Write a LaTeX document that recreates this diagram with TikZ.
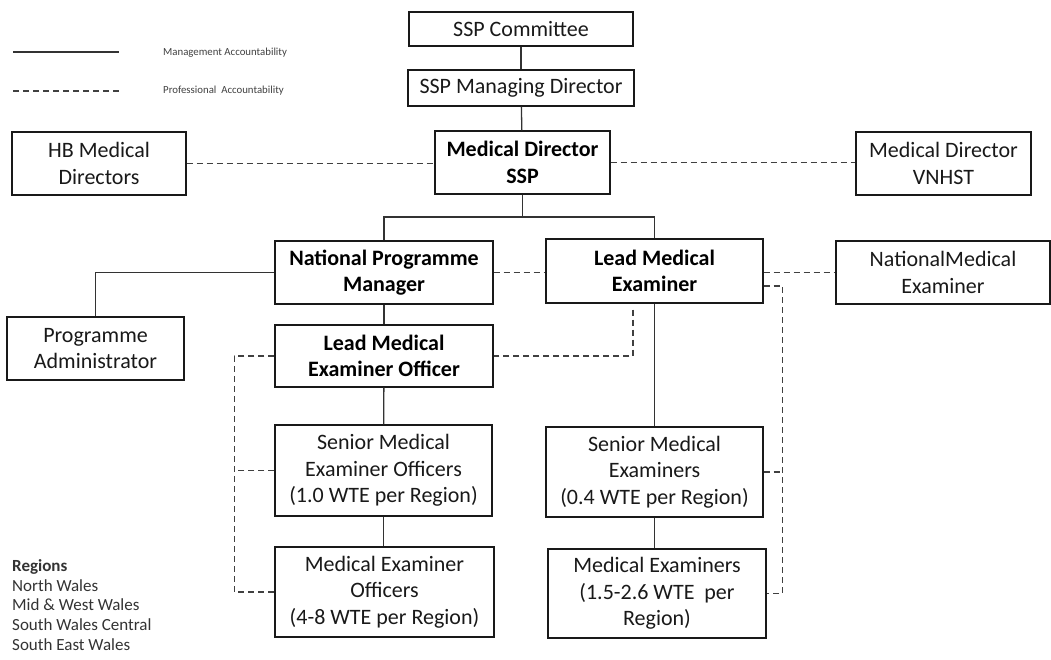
\documentclass[tikz,border=0pt]{standalone}
\usepackage{fontspec}
\setmainfont{Carlito}
\usetikzlibrary{positioning}
\begin{document}
\begin{tikzpicture}[x=1pt,y=-1pt,
    box/.style={draw=black!90,line width=1.4pt,align=center,inner sep=0pt,text=black!90,font=\fontsize{22}{26.5}\selectfont},
    bbox/.style={box,text=black,font=\fontsize{22}{26.5}\selectfont\bfseries},
    mgmt/.style={draw=black!80,line width=1.3pt},
    prof/.style={draw=black!75,line width=1.4pt,dash pattern=on 6pt off 4pt},
    legtext/.style={anchor=west,inner sep=0pt,text=black!75,font=\fontsize{10.8}{12}\selectfont}]
    \useasboundingbox (0,0) rectangle (1051,659);
    % top of the chart
    \node[box,minimum width=224pt,minimum height=34pt] (comm) at (521,29) {SSP Committee};
    \node[box,minimum width=226pt,minimum height=36pt] (mdir) at (521,88) {SSP Managing Director};
    \node[bbox,minimum width=175pt,minimum height=63pt] (meddir) at (522.5,162.5) {Medical Director\\SSP};
    \node[box,minimum width=174pt,minimum height=63pt] (hb) at (99,163.5) {HB Medical\\Directors};
    \node[box,minimum width=175pt,minimum height=63pt] (vnhst) at (943.5,163.5) {Medical Director\\VNHST};
    % second row
    \node[bbox,minimum width=218pt,minimum height=63pt] (npm) at (384,272.5) {National Programme\\Manager};
    \node[bbox,minimum width=217pt,minimum height=64pt] (lme) at (654.5,271) {Lead Medical\\Examiner};
    \node[box,minimum width=214pt,minimum height=63pt] (nme) at (943,272.5) {NationalMedical\\Examiner};
    \node[box,minimum width=177pt,minimum height=63pt] (pa) at (95.5,348.5) {Programme\\Administrator};
    \node[bbox,minimum width=218pt,minimum height=62pt] (lmeo) at (384,356) {Lead Medical\\Examiner Officer};
    % regional staff
    \node[box,minimum width=217pt,minimum height=91pt] (smeo) at (383.5,470.5) {Senior Medical\\Examiner Officers\\(1.0 WTE per Region)};
    \node[box,minimum width=219pt,minimum height=90pt] (meo) at (384.5,592) {Medical Examiner\\Officers\\(4-8 WTE per Region)};
    \node[box,minimum width=217pt,minimum height=90pt] (sme) at (654.5,472) {Senior Medical\\Examiners\\(0.4 WTE per Region)};
    \node[box,minimum width=218pt,minimum height=89pt] (me) at (657,593.5) {Medical Examiners\\(1.5-2.6 WTE~ per\\Region)};
    % management accountability
    \coordinate (bus) at (0,217);
    \draw[mgmt] (comm) -- (mdir);
    \draw[mgmt] (mdir) -- (meddir);
    \draw[mgmt] (meddir.south) -- (meddir.south |- bus);
    \draw[mgmt] (npm.north) -- (npm.north |- bus) -| (lme.north);
    \draw[mgmt] (npm.west) -| (pa.north);
    \draw[mgmt] (npm) -- (lmeo);
    \draw[mgmt] (lmeo) -- (smeo);
    \draw[mgmt] (smeo) -- (smeo.south |- meo.north);
    \draw[mgmt] (lme) -- (lme.south |- sme.north);
    \draw[mgmt] (sme) -- (sme.south |- me.north);
    % professional accountability
    \draw[prof] (hb.east) -- (hb.east -| meddir.west);
    \draw[prof] (meddir.east) -- (meddir.east -| vnhst.west);
    \draw[prof] (npm.east) -- (npm.east -| lme.west);
    \draw[prof] (lme.east |- nme.west) -- (nme.west);
    \draw[prof] ([xshift=-21.5pt,yshift=-6pt]lme.south) |- (lmeo.east);
    \draw[prof] (lmeo.west) -- ++(-40,0) |- (meo.west);
    \draw[prof] (smeo.west) -- ++(-40,0);
    \draw[prof] ([yshift=-15pt]lme.east) -- ++(19,0) |- (me.east);
    \draw[prof] (sme.east) -- ++(19,0);
    % legend
    \coordinate (leg1) at (13,52);
    \coordinate (leg2) at (13,91);
    \draw[mgmt] (leg1) -- ++(106,0);
    \draw[prof] (leg2) -- ++(106,0);
    \node[legtext] (leg1txt) at (163,53) {Management Accountability};
    \node[legtext] (leg2txt) at (163,91) {Professional~ Accountability};
    % regions
    \node[anchor=base west,inner sep=0pt,align=left,text=black!80,font=\fontsize{17}{19.6}\selectfont] (regions) at (12,650)
        {\textbf{Regions}\\North Wales\\Mid \& West Wales\\South Wales Central\\South East Wales};
\end{tikzpicture}
\end{document}
